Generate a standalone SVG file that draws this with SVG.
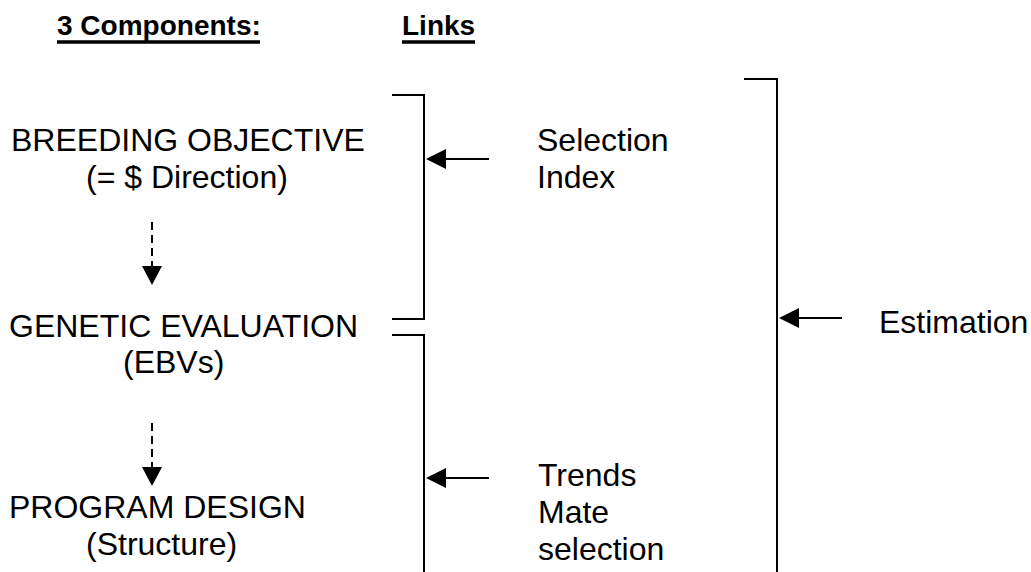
<svg xmlns="http://www.w3.org/2000/svg" width="1031" height="572" viewBox="0 0 1031 572">
  <style>
    .t { font-family: "Liberation Sans", Arial, sans-serif; font-size: 32px; fill: #000; }
    .h { font-family: "Liberation Sans", Arial, sans-serif; font-size: 28px; font-weight: bold; fill: #000; }
    .ln { stroke: #000; stroke-width: 2; fill: none; }
    .ul { stroke: #000; stroke-width: 3.5; }
    .dash { stroke: #000; stroke-width: 2; stroke-dasharray: 8 5; fill: none; }
    .head { fill: #000; }
  </style>
  <rect width="1031" height="572" fill="#fff"/>

  <g id="headers">
    <text class="h" x="57" y="35">3 Components:</text>
    <line class="ul" x1="57" y1="42" x2="260" y2="42"/>
    <text class="h" x="402" y="35">Links</text>
    <line class="ul" x1="402" y1="42" x2="475" y2="42"/>
  </g>

  <g id="breeding-objective">
    <text class="t" x="11" y="151">BREEDING OBJECTIVE</text>
    <text class="t" x="86" y="188">(= $ Direction)</text>
  </g>

  <g id="genetic-evaluation">
    <text class="t" x="9" y="337">GENETIC EVALUATION</text>
    <text class="t" x="123" y="373">(EBVs)</text>
  </g>

  <g id="program-design">
    <text class="t" x="9" y="518">PROGRAM DESIGN</text>
    <text class="t" x="86" y="555">(Structure)</text>
  </g>

  <g id="selection-index">
    <text class="t" x="537" y="151">Selection</text>
    <text class="t" x="537" y="188">Index</text>
  </g>

  <g id="trends">
    <text class="t" x="538" y="486">Trends</text>
    <text class="t" x="538" y="523">Mate</text>
    <text class="t" x="538" y="560">selection</text>
  </g>

  <g id="estimation">
    <text class="t" x="879" y="333">Estimation</text>
  </g>

  <g id="connectors">
    <!-- dashed arrows between components -->
    <line class="dash" x1="152" y1="222" x2="152" y2="267"/>
    <polygon class="head" points="142,266 162,266 152,285"/>
    <line class="dash" x1="152" y1="423" x2="152" y2="467"/>
    <polygon class="head" points="142,467 162,467 152,486"/>

    <!-- brackets -->
    <polyline class="ln" points="392,95 424,95 424,319 392,319"/>
    <polyline class="ln" points="392,335 424,335 424,572"/>
    <polyline class="ln" points="744,79 777,79 777,572"/>

    <!-- link arrows -->
    <line class="ln" x1="444" y1="159" x2="489" y2="159"/>
    <polygon class="head" points="426,159 446,149 446,169"/>
    <line class="ln" x1="444" y1="478" x2="489" y2="478"/>
    <polygon class="head" points="426,478 446,468 446,488"/>
    <line class="ln" x1="797" y1="318" x2="842" y2="318"/>
    <polygon class="head" points="779,318 799,308 799,328"/>
  </g>
</svg>
